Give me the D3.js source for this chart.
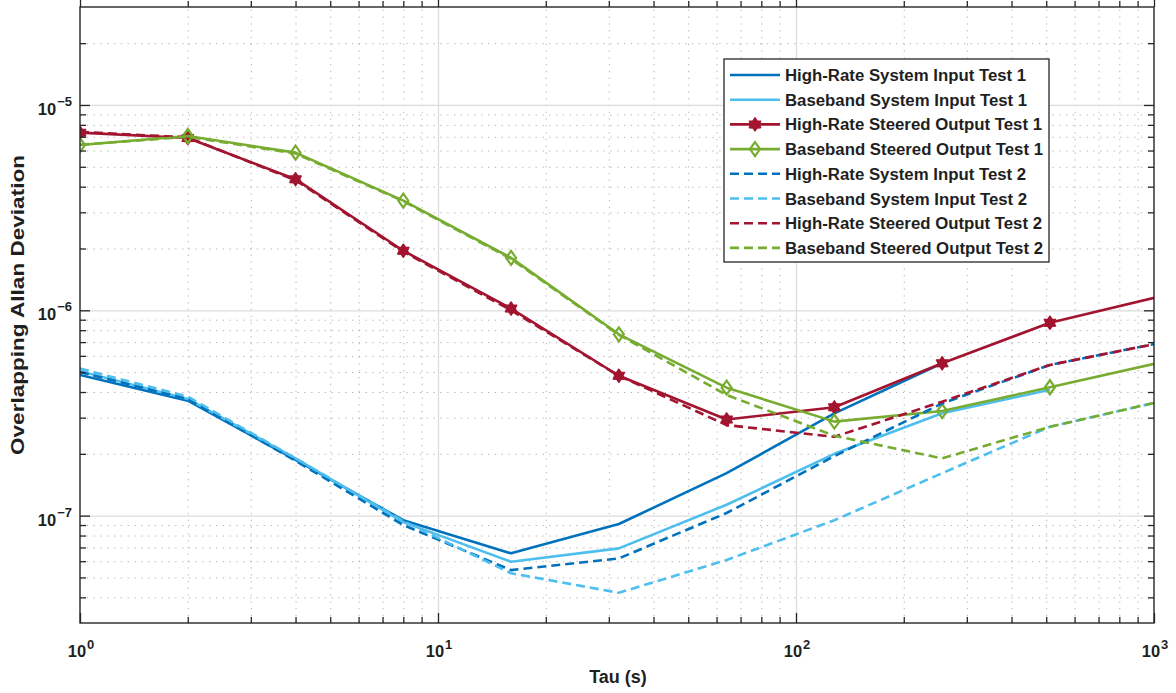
<!DOCTYPE html>
<html>
<head>
<meta charset="utf-8">
<script src="https://cdn.jsdelivr.net/npm/d3@7"></script>
<style>
  body { margin: 0; background: #fff; }
  text { font-family: "Liberation Sans", Arial, Helvetica, sans-serif; font-weight: bold; fill: #1f1f1f; }
</style>
</head>
<body>
<svg id="chart" width="1176" height="693"></svg>
<script>
// Averaging times (s)
const tau = [1, 2, 4, 8, 16, 32, 64, 128, 256, 512, 1024];

// Overlapping Allan deviation per series (null = no estimate at that tau)
const hrInput1   = [4.84e-7, 3.63e-7, 1.87e-7, 9.5e-8, 6.55e-8, 9.1e-8, 1.61e-7, 3.15e-7, 5.52e-7, null, null];
const bbInput1   = [5.05e-7, 3.70e-7, 1.90e-7, 9.3e-8, 5.96e-8, 6.93e-8, 1.13e-7, 2.0e-7, 3.15e-7, 4.1e-7, null];
const hrOutput1  = [7.33e-6, 6.90e-6, 4.35e-6, 1.95e-6, 1.02e-6, 4.8e-7, 2.94e-7, 3.37e-7, 5.52e-7, 8.7e-7, 1.16e-6];
const bbOutput1  = [6.38e-6, 7.06e-6, 5.86e-6, 3.42e-6, 1.80e-6, 7.64e-7, 4.2e-7, 2.87e-7, 3.23e-7, 4.22e-7, 5.54e-7];
const hrInput2   = [5.0e-7, 3.70e-7, 1.85e-7, 9.0e-8, 5.43e-8, 6.19e-8, 1.03e-7, 1.95e-7, 3.52e-7, 5.42e-7, 6.9e-7];
const bbInput2   = [5.2e-7, 3.80e-7, 1.90e-7, 9.4e-8, 5.24e-8, 4.21e-8, 6.08e-8, 9.5e-8, 1.61e-7, 2.71e-7, 3.57e-7];
const hrOutput2  = [7.4e-6, 6.95e-6, 4.30e-6, 1.93e-6, 1.0e-6, 4.8e-7, 2.76e-7, 2.42e-7, 3.59e-7, 5.42e-7, 6.9e-7];
const bbOutput2  = [6.4e-6, 7.0e-6, 5.80e-6, 3.40e-6, 1.78e-6, 7.6e-7, 3.87e-7, 2.45e-7, 1.90e-7, 2.71e-7, 3.57e-7];

const seriesNames = [
  "High-Rate System Input Test 1",
  "Baseband System Input Test 1",
  "High-Rate Steered Output Test 1",
  "Baseband Steered Output Test 1",
  "High-Rate System Input Test 2",
  "Baseband System Input Test 2",
  "High-Rate Steered Output Test 2",
  "Baseband Steered Output Test 2"
];
const seriesValues = [hrInput1, bbInput1, hrOutput1, bbOutput1, hrInput2, bbInput2, hrOutput2, bbOutput2];

// Axis tick values
const xMajorTicks = [1, 10, 100, 1000];
const yMajorTicks = [1e-7, 1e-6, 1e-5];
const xTickExponents = ["0", "1", "2", "3"];
const yTickExponents = ["-7", "-6", "-5"];

// Styling per series
const palette = { hrIn: "#0072BD", bbIn: "#4DBEEE", hrOut: "#A2142F", bbOut: "#77AC30" };
const styles = [
  { color: palette.hrIn,  dash: null, marker: null },
  { color: palette.bbIn,  dash: null, marker: null },
  { color: palette.hrOut, dash: null, marker: "hexagram" },
  { color: palette.bbOut, dash: null, marker: "diamond" },
  { color: palette.hrIn,  dash: "9,5", marker: null },
  { color: palette.bbIn,  dash: "9,5", marker: null },
  { color: palette.hrOut, dash: "9,5", marker: null },
  { color: palette.bbOut, dash: "9,5", marker: null }
];

const svg = d3.select("#chart");
const plot = { left: 80, right: 1154, top: 7, bottom: 623 };
const W = plot.right - plot.left, H = plot.bottom - plot.top;

const x = d3.scaleLog().domain([1, 1000]).range([plot.left, plot.right]);
const y = d3.scaleLog().domain([3e-8, 3e-5]).range([plot.bottom, plot.top]);

// minor tick values (2..9 in each decade), within the domain
function minorTicks(scale) {
  const [a, b] = scale.domain();
  const out = [];
  for (let e = Math.floor(Math.log10(a)); e <= Math.ceil(Math.log10(b)); e++) {
    for (let k = 2; k <= 9; k++) {
      const v = k * Math.pow(10, e);
      if (v > a * 1.0001 && v < b * 0.9999) out.push(v);
    }
  }
  return out;
}
const xMinor = minorTicks(x), yMinor = minorTicks(y);

const g = svg.append("g");

// ----- grid -----
const gridMinorX = g.append("g").attr("transform", `translate(0,${plot.bottom})`)
  .call(d3.axisBottom(x).tickValues(xMinor).tickSize(-H).tickFormat(""));
const gridMinorY = g.append("g").attr("transform", `translate(${plot.left},0)`)
  .call(d3.axisLeft(y).tickValues(yMinor).tickSize(-W).tickFormat(""));
[gridMinorX, gridMinorY].forEach(s => {
  s.select(".domain").remove();
  s.selectAll("line").attr("stroke", "#9a9a9a").attr("stroke-width", 1)
    .attr("stroke-dasharray", "1.3,5.5").attr("opacity", 0.75);
});
const gridMajorX = g.append("g").attr("transform", `translate(0,${plot.bottom})`)
  .call(d3.axisBottom(x).tickValues(xMajorTicks.slice(1, -1)).tickSize(-H).tickFormat(""));
const gridMajorY = g.append("g").attr("transform", `translate(${plot.left},0)`)
  .call(d3.axisLeft(y).tickValues(yMajorTicks).tickSize(-W).tickFormat(""));
[gridMajorX, gridMajorY].forEach(s => {
  s.select(".domain").remove();
  s.selectAll("line").attr("stroke", "#dcdcdc").attr("stroke-width", 1.3);
});

// ----- data -----
svg.append("clipPath").attr("id", "plotClip").append("rect")
  .attr("x", plot.left).attr("y", plot.top).attr("width", W).attr("height", H);

const lineGen = d3.line()
  .defined(d => d.v != null)
  .x(d => x(d.t)).y(d => y(d.v));

function hexagramPath(r) {
  const pts = [];
  for (let i = 0; i < 12; i++) {
    const rr = i % 2 === 0 ? r : r * 0.62;
    const a = -Math.PI / 2 + i * Math.PI / 6;
    pts.push([rr * Math.cos(a), rr * Math.sin(a)]);
  }
  return "M" + pts.map(p => p.join(",")).join("L") + "Z";
}
function diamondPath(w, h) {
  return `M0,${-h / 2}L${w / 2},0L0,${h / 2}L${-w / 2},0Z`;
}
function drawMarker(sel, type, color) {
  if (type === "hexagram") {
    sel.append("path").attr("d", hexagramPath(6.5)).attr("fill", color)
      .attr("stroke", color).attr("stroke-width", 1.5).attr("stroke-linejoin", "round");
  } else if (type === "diamond") {
    sel.append("path").attr("d", diamondPath(10, 14)).attr("fill", "none")
      .attr("stroke", color).attr("stroke-width", 2.2);
  }
}

const dataLayer = g.append("g").attr("clip-path", "url(#plotClip)");
seriesValues.forEach((vals, i) => {
  const pts = tau.map((t, j) => ({ t, v: vals[j] }));
  const st = styles[i];
  const sg = dataLayer.append("g");
  sg.append("path").datum(pts)
    .attr("d", lineGen)
    .attr("fill", "none")
    .attr("stroke", st.color)
    .attr("stroke-width", 2.6)
    .attr("stroke-linejoin", "round")
    .attr("stroke-dasharray", st.dash);
  if (st.marker) {
    pts.filter(d => d.v != null && d.t <= 1000).forEach(d => {
      const m = sg.append("g").attr("transform", `translate(${x(d.t)},${y(d.v)})`);
      drawMarker(m, st.marker, st.color);
    });
  }
});

// ----- axes box and inward ticks -----
const axisColor = "#262626";
function styleAxis(s) {
  s.select(".domain").remove();
  s.selectAll("line").attr("stroke", axisColor).attr("stroke-width", 1.3);
}
[[d3.axisBottom, plot.bottom, -10, xMajorTicks], [d3.axisBottom, plot.bottom, -6, xMinor],
 [d3.axisTop, plot.top, 10, xMajorTicks], [d3.axisTop, plot.top, 6, xMinor]].forEach(([ax, pos, len, vals]) => {
  g.append("g").attr("transform", `translate(0,${pos})`)
    .call(ax(x).tickValues(vals).tickSize(Math.abs(len)).tickFormat(""))
    .call(s => { styleAxis(s); s.selectAll("line").attr("y2", pos === plot.bottom ? len : -len); });
});
[[d3.axisLeft, plot.left, -10, yMajorTicks], [d3.axisLeft, plot.left, -6, yMinor],
 [d3.axisRight, plot.right, 10, yMajorTicks], [d3.axisRight, plot.right, 6, yMinor]].forEach(([ax, pos, len, vals]) => {
  g.append("g").attr("transform", `translate(${pos},0)`)
    .call(ax(y).tickValues(vals).tickSize(Math.abs(len)).tickFormat(""))
    .call(s => { styleAxis(s); s.selectAll("line").attr("x2", -len); });
});
g.append("rect").attr("x", plot.left).attr("y", plot.top).attr("width", W).attr("height", H)
  .attr("fill", "none").attr("stroke", axisColor).attr("stroke-width", 1.4);

// ----- tick labels (10^n) -----
xMajorTicks.forEach((v, i) => {
  const t = g.append("text").attr("x", x(v) + 1).attr("y", 657).attr("text-anchor", "middle")
    .style("font-size", "16.5px");
  t.append("tspan").text("10");
  t.append("tspan").attr("dx", 1).attr("dy", -8).style("font-size", "13px").text(xTickExponents[i]);
});
yMajorTicks.forEach((v, i) => {
  const t = g.append("text").attr("x", 72).attr("y", y(v) + 10).attr("text-anchor", "end")
    .style("font-size", "16.5px");
  t.append("tspan").text("10");
  t.append("tspan").attr("dx", 1).attr("dy", -9).style("font-size", "13px")
    .text(yTickExponents[i].replace("-", "\u2212"));
});

// ----- axis titles -----
g.append("text").attr("x", (plot.left + plot.right) / 2 + 1).attr("y", 683)
  .attr("text-anchor", "middle").style("font-size", "18px").text("Tau (s)");
g.append("text").attr("transform", `translate(24,${(plot.top + plot.bottom) / 2 - 10}) rotate(-90)`)
  .attr("text-anchor", "middle").style("font-size", "18px")
  .attr("textLength", 300).attr("lengthAdjust", "spacingAndGlyphs")
  .text("Overlapping Allan Deviation");

// ----- legend -----
const leg = { x: 724, y: 59, w: 325, h: 203, row0: 75, step: 24.7 };
const lg = g.append("g");
lg.append("rect").attr("x", leg.x).attr("y", leg.y).attr("width", leg.w).attr("height", leg.h)
  .attr("fill", "#fff").attr("stroke", axisColor).attr("stroke-width", 1.3);
seriesNames.forEach((name, i) => {
  const yy = leg.row0 + i * leg.step;
  const st = styles[i];
  lg.append("line").attr("x1", leg.x + 6).attr("x2", leg.x + 56).attr("y1", yy).attr("y2", yy)
    .attr("stroke", st.color).attr("stroke-width", 2.6).attr("stroke-dasharray", st.dash);
  if (st.marker) {
    const m = lg.append("g").attr("transform", `translate(${leg.x + 31},${yy})`);
    drawMarker(m, st.marker, st.color);
  }
  lg.append("text").attr("x", leg.x + 61).attr("y", yy + 6).style("font-size", "16.8px").text(name);
});
</script>
</body>
</html>
